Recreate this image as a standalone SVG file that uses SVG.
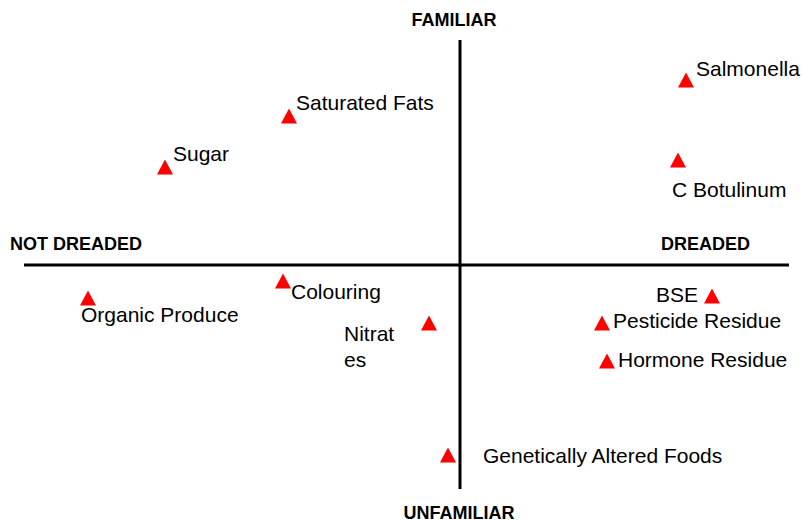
<svg xmlns="http://www.w3.org/2000/svg" width="803" height="521" viewBox="0 0 803 521">
<style>
.ax{stroke:#000;stroke-width:3;fill:none}
.hd{font-family:"Liberation Sans",Arial,sans-serif;font-weight:bold;font-size:18px;fill:#000}
.lb{font-family:"Liberation Sans",Arial,sans-serif;font-size:21px;fill:#000}
.tr{fill:#ff0000}
</style>
<defs><path id="t" d="M-8,7.5 L0,-7.5 L8,7.5 Z"/></defs>
<rect width="803" height="521" fill="#fff"/>
<g id="axes">
<line class="ax" x1="460" y1="40" x2="460" y2="489"/>
<line class="ax" x1="24" y1="265" x2="789" y2="265"/>
</g>
<g id="headings">
<text class="hd" x="454" y="26" text-anchor="middle">FAMILIAR</text>
<text class="hd" x="10" y="250">NOT DREADED</text>
<text class="hd" x="661" y="250">DREADED</text>
<text class="hd" x="459" y="519" text-anchor="middle">UNFAMILIAR</text>
</g>
<g id="salmonella"><use href="#t" class="tr" x="686" y="80"/><text class="lb" x="696" y="76">Salmonella</text></g>
<g id="saturated-fats"><use href="#t" class="tr" x="289" y="116"/><text class="lb" x="296" y="110">Saturated Fats</text></g>
<g id="sugar"><use href="#t" class="tr" x="165" y="167"/><text class="lb" x="173" y="161">Sugar</text></g>
<g id="c-botulinum"><use href="#t" class="tr" x="678" y="160"/><text class="lb" x="672" y="197">C Botulinum</text></g>
<g id="colouring"><use href="#t" class="tr" x="283" y="281"/><text class="lb" x="291" y="299">Colouring</text></g>
<g id="organic-produce"><use href="#t" class="tr" x="88" y="298"/><text class="lb" x="81" y="322">Organic Produce</text></g>
<g id="nitrates"><use href="#t" class="tr" x="429" y="323"/><text class="lb" x="344" y="341">Nitrat</text><text class="lb" x="344" y="367">es</text></g>
<g id="bse"><use href="#t" class="tr" x="712" y="296"/><text class="lb" x="656" y="302">BSE</text></g>
<g id="pesticide-residue"><use href="#t" class="tr" x="602" y="323"/><text class="lb" x="613" y="328">Pesticide Residue</text></g>
<g id="hormone-residue"><use href="#t" class="tr" x="607" y="361"/><text class="lb" x="618" y="367">Hormone Residue</text></g>
<g id="genetically-altered-foods"><use href="#t" class="tr" x="448" y="455"/><text class="lb" x="483" y="463">Genetically Altered Foods</text></g>
</svg>
